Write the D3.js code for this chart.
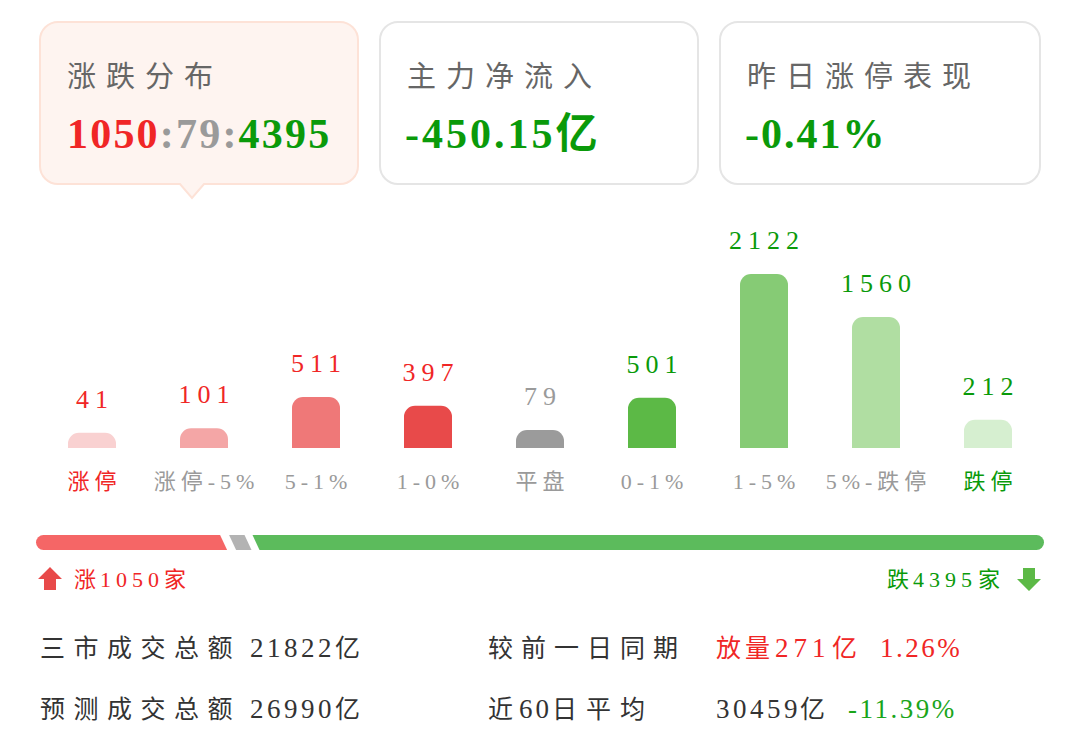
<!DOCTYPE html>
<html><head><meta charset="utf-8">
<script src="https://cdn.jsdelivr.net/npm/d3@7/dist/d3.min.js"></script>
<style>
html,body{margin:0;padding:0;background:#fff;}
svg{display:block;}
text{font-family:"Liberation Serif","Noto Sans CJK SC",serif;}
</style></head>
<body>
<svg id="c" width="1080" height="741"></svg>
<script>
// ---- data ----
const categories = ["涨停","涨停-5%","5-1%","1-0%","平盘","0-1%","1-5%","5%-跌停","跌停"];
const counts = [41,101,511,397,79,501,2122,1560,212];
const upCount = 1050, flatCount = 79, downCount = 4395;
const cardTitles = ["涨跌分布","主力净流入","昨日涨停表现"];
const mainFlow = "-450.15亿";
const limitUpPerf = "-0.41%";
const turnoverLabels = ["三市成交总额","预测成交总额"];
const turnoverValues = [["21822","亿"],["26990","亿"]];
const compareLabels = ["较前一日同期","近60日平均"];
const compareValues = [["放量","271","亿","1.26%"],["","30459","亿","-11.39%"]];

// ---- styles ----
const barColors = ["#f9d1d1","#f4a6a6","#ef7878","#e84a4a","#9b9b9b","#5cb946","#86cb75","#b0dea2","#d6efd0"];
const RED="#f02626", GREEN="#0a9a0a", GREY="#9a9a9a", DARK="#333";
const valueColors = counts.map((d,i)=> i<4?RED:(i===4?GREY:GREEN));
const catColors = categories.map((d,i)=> i===0?RED:(i===8?GREEN:GREY));

const svg = d3.select("#c");

// ---- cards ----
const cards = [{x:40,w:318,fill:"#fef4f0",stroke:"#fde2d7"},{x:380,w:318,fill:"#fff",stroke:"#e5e5e5"},{x:720,w:320,fill:"#fff",stroke:"#e5e5e5"}];
cards.forEach((c,i)=>{
  const y=22,h=162,r=18;
  if(i===0){
    const tx=192, ty=198;
    const p=`M${c.x+r},${y} H${c.x+c.w-r} A${r},${r} 0 0 1 ${c.x+c.w},${y+r} V${y+h-r} A${r},${r} 0 0 1 ${c.x+c.w-r},${y+h} H${tx+12} L${tx},${ty} L${tx-12},${y+h} H${c.x+r} A${r},${r} 0 0 1 ${c.x},${y+h-r} V${y+r} A${r},${r} 0 0 1 ${c.x+r},${y} Z`;
    svg.append("path").attr("d",p).attr("fill",c.fill).attr("stroke",c.stroke).attr("stroke-width",2);
  } else {
    svg.append("rect").attr("x",c.x).attr("y",y).attr("width",c.w).attr("height",h).attr("rx",r)
      .attr("fill",c.fill).attr("stroke",c.stroke).attr("stroke-width",2);
  }
  svg.append("text").attr("x",c.x+27).attr("y",87).attr("font-size",29).attr("letter-spacing",10)
    .attr("fill","#666").text(cardTitles[i]);
});
// card values
const t1 = svg.append("text").attr("x",67).attr("y",148).attr("font-size",42).attr("font-weight","bold").attr("letter-spacing",2.2);
t1.append("tspan").attr("fill",RED).text(upCount);
t1.append("tspan").attr("fill",GREY).text(":"+flatCount+":");
t1.append("tspan").attr("fill",GREEN).text(downCount);
svg.append("text").attr("x",405).attr("y",148).attr("font-size",42).attr("font-weight","bold").attr("letter-spacing",3)
  .attr("fill",GREEN).text(mainFlow);
svg.append("text").attr("x",745).attr("y",148).attr("font-size",42).attr("font-weight","bold").attr("letter-spacing",2)
  .attr("fill",GREEN).text(limitUpPerf);

// ---- bars ----
const baseY = 448;
const x = d3.scalePoint().domain(categories).range([36,1044]).padding(0.5);
const h = d3.scaleLinear().domain([0,d3.max(counts)]).range([12,174]);
const bw = 48;
function topRounded(cx, top, w, bottom, r){
  const x0=cx-w/2, x1=cx+w/2; r=Math.min(r,(bottom-top));
  return `M${x0},${bottom} V${top+r} A${r},${r} 0 0 1 ${x0+r},${top} H${x1-r} A${r},${r} 0 0 1 ${x1},${top+r} V${bottom} Z`;
}
const g = svg.append("g");
g.selectAll("path.bar").data(categories).join("path").attr("class","bar")
  .attr("d",(d,i)=>topRounded(x(d), baseY-h(counts[i]), bw, baseY, 11))
  .attr("fill",(d,i)=>barColors[i]);
g.selectAll("text.val").data(categories).join("text").attr("class","val")
  .attr("x",d=>x(d)+3).attr("y",(d,i)=>baseY-h(counts[i])-25)
  .attr("text-anchor","middle").attr("font-size",26).attr("letter-spacing",6)
  .attr("fill",(d,i)=>valueColors[i]).text((d,i)=>counts[i]);
g.selectAll("text.cat").data(categories).join("text").attr("class","cat")
  .attr("x",d=>x(d)+2.5).attr("y",489)
  .attr("text-anchor","middle").attr("font-size",22).attr("letter-spacing",5)
  .attr("fill",(d,i)=>catColors[i]).text(d=>d);

// ---- progress bar ----
const total = upCount+flatCount+downCount;
const px = d3.scaleLinear().domain([0,total]).range([36,1044]);
const py0=535, py1=550, sl=7;
const xr = px(upCount), xg = px(upCount+flatCount);
const rr = (py1-py0)/2;
const redEnd = xr-4, grayStart = xr+5, grayEnd = xg+6, greenStart = xg+14;
svg.append("path").attr("fill","#f56666")
  .attr("d",`M${px(0)+rr},${py0} H${redEnd-sl/2} L${redEnd+sl/2},${py1} H${px(0)+rr} A${rr},${rr} 0 0 1 ${px(0)+rr},${py0} Z`);
svg.append("path").attr("fill","#b3b3b3")
  .attr("d",`M${grayStart-sl/2},${py0} H${grayEnd-sl/2} L${grayEnd+sl/2},${py1} H${grayStart+sl/2} Z`);
svg.append("path").attr("fill","#5cbb5c")
  .attr("d",`M${greenStart-sl/2},${py0} H${px(total)-rr} A${rr},${rr} 0 0 1 ${px(total)-rr},${py1} H${greenStart+sl/2} Z`);

// arrows
svg.append("path").attr("fill","#e84a4a")
  .attr("d","M50,567 L62,579 H56 V590 H44 V579 H38 Z");
svg.append("path").attr("fill","#5cb946")
  .attr("d","M1029,591 L1041,579 H1035 V568 H1023 V579 H1017 Z");
const ua = svg.append("text").attr("y",587).attr("font-size",22).attr("fill",RED);
ua.append("tspan").attr("x",74).text("涨");
ua.append("tspan").attr("x",100).attr("letter-spacing",5).text(upCount);
ua.append("tspan").attr("x",164).text("家");
const da = svg.append("text").attr("y",587).attr("font-size",22).attr("fill",GREEN);
da.append("tspan").attr("x",887).text("跌");
da.append("tspan").attr("x",913).attr("letter-spacing",5).text(downCount);
da.append("tspan").attr("x",978).text("家");

// ---- bottom stats ----
const rowsY=[657,718];
rowsY.forEach((yy,i)=>{
  const a = svg.append("text").attr("x",40).attr("y",yy).attr("font-size",25).attr("fill",DARK);
  a.append("tspan").attr("letter-spacing",8.5).text(turnoverLabels[i]);
  a.append("tspan").attr("x",250).attr("font-size",27).attr("letter-spacing",3.5).text(turnoverValues[i][0]);
  a.append("tspan").attr("x",335).text(turnoverValues[i][1]);
  if(i===0){
    svg.append("text").attr("x",488).attr("y",yy).attr("font-size",25).attr("fill",DARK)
      .attr("letter-spacing",8).text(compareLabels[i]);
  } else {
    const c = svg.append("text").attr("x",488).attr("y",yy).attr("font-size",25).attr("fill",DARK);
    c.append("tspan").attr("letter-spacing",6).text("近");
    c.append("tspan").attr("font-size",27).attr("letter-spacing",3).text("60");
    c.append("tspan").attr("letter-spacing",9).text("日平均");
  }
  const v = compareValues[i];
  const col = i===0?RED:DARK, col2 = i===0?RED:"#1aa51a";
  const b = svg.append("text").attr("x",716).attr("y",yy).attr("font-size",25);
  let xs = 716;
  if(v[0]){ b.append("tspan").attr("fill",col).attr("letter-spacing",4).text(v[0]); xs = 775; }
  b.append("tspan").attr("x",xs).attr("fill",col).attr("font-size",27).attr("letter-spacing",i===0?5:3.5).text(v[1]);
  b.append("tspan").attr("x",i===0?832:800).attr("fill",col).text(v[2]);
  b.append("tspan").attr("x",i===0?880:848).attr("fill",col2).attr("font-size",27).attr("letter-spacing",2.5).text(v[3]);
});
</script>
</body></html>
